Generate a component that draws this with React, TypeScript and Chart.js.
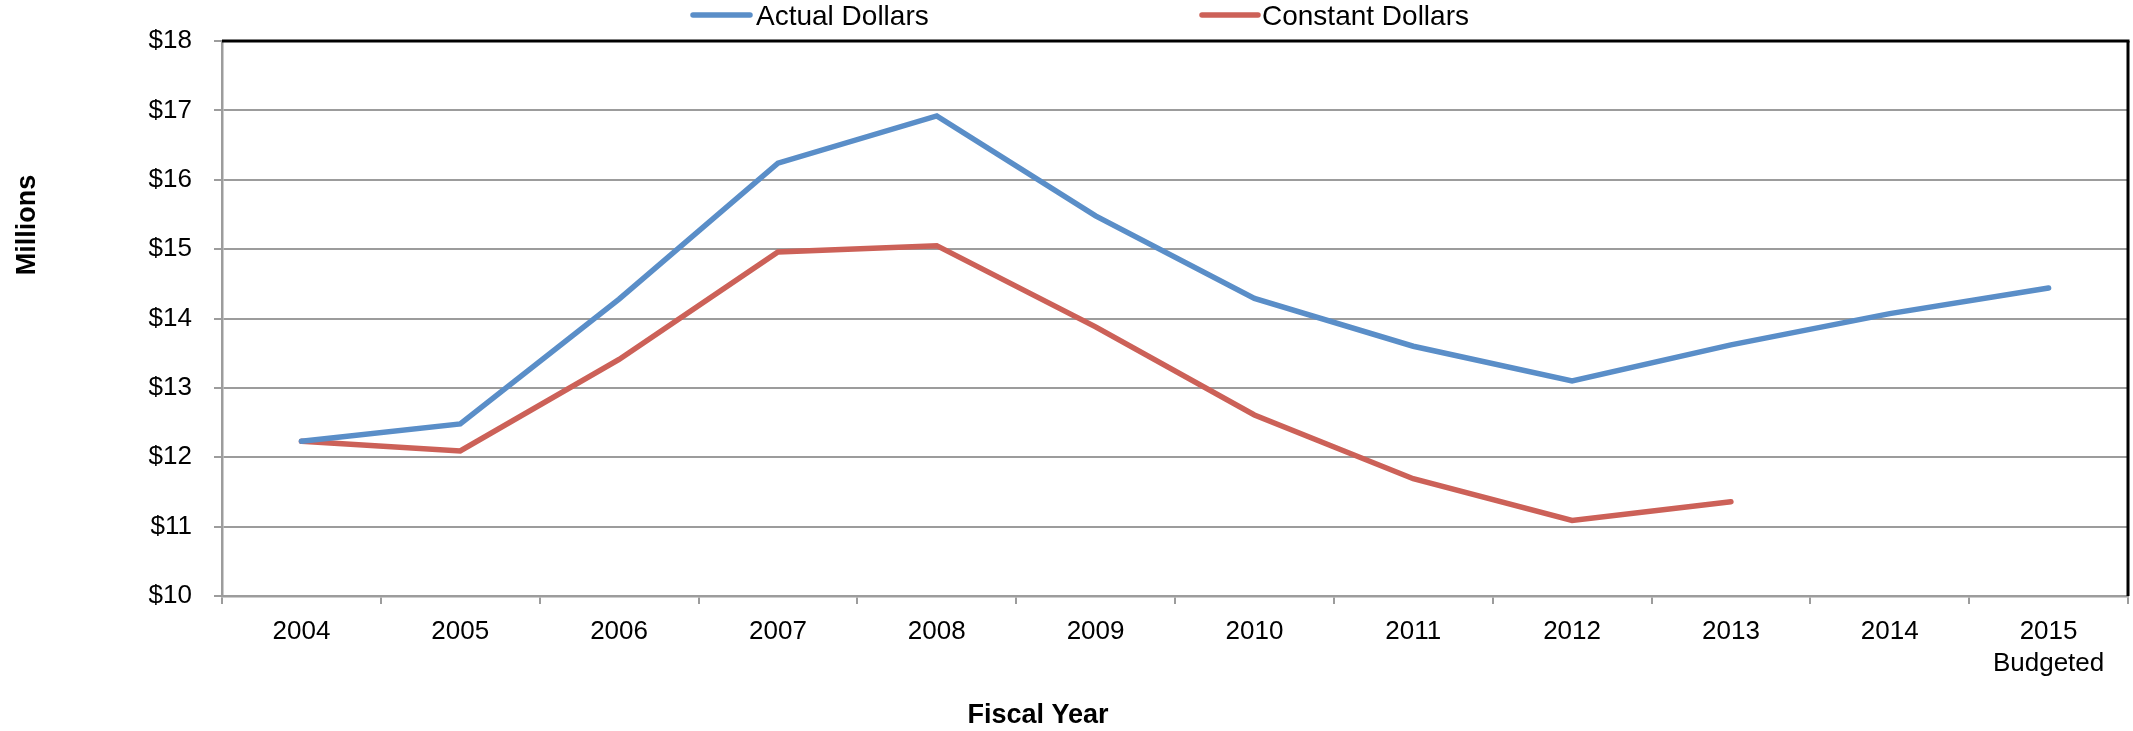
import React, { useEffect, useRef } from "react";
import { Chart, registerables } from "chart.js";

Chart.register(...registerables);

const categories: (string | string[])[] = [
  "2004", "2005", "2006", "2007", "2008", "2009",
  "2010", "2011", "2012", "2013", "2014", ["2015", "Budgeted"],
];
const actualDollars: (number | null)[] = [
  12.23, 12.48, 14.28, 16.24, 16.92, 15.48, 14.29, 13.60, 13.10, 13.62, 14.07, 14.44,
];
const constantDollars: (number | null)[] = [
  12.23, 12.09, 13.41, 14.96, 15.05, 13.88, 12.61, 11.69, 11.09, 11.36, null, null,
];
const seriesNames = ["Actual Dollars", "Constant Dollars"];
const yMin = 10;
const yMax = 18;
const yTitle = "Millions";
const xTitle = "Fiscal Year";

const BLUE = "#5A8EC8";
const RED = "#CC6158";
const GRID = "#9C9C9C";
const FONT = "'Liberation Sans', Arial, sans-serif";

const decorPlugin = {
  id: "decor",
  afterDraw(chart: any) {
    const { ctx, chartArea: a } = chart;
    ctx.save();
    // black top / right border of the plot area
    ctx.strokeStyle = "#000";
    ctx.lineCap = "butt";
    ctx.lineWidth = 3;
    ctx.beginPath();
    ctx.moveTo(a.left, a.top);
    ctx.lineTo(a.right + 1.5, a.top);
    ctx.stroke();
    ctx.lineWidth = 3;
    ctx.beginPath();
    ctx.moveTo(a.right, a.top);
    ctx.lineTo(a.right, a.bottom);
    ctx.stroke();

    // legend
    const legendItems = [
      { x0: 693, x1: 750, tx: 756 },
      { x0: 1202, x1: 1258, tx: 1262 },
    ];
    chart.data.datasets.forEach((ds: any, i: number) => {
      const it = legendItems[i];
      ctx.strokeStyle = ds.borderColor;
      ctx.lineWidth = 5.5;
      ctx.lineCap = "round";
      ctx.beginPath();
      ctx.moveTo(it.x0, 15);
      ctx.lineTo(it.x1, 15);
      ctx.stroke();
      ctx.fillStyle = "#000";
      ctx.font = `28px ${FONT}`;
      ctx.textAlign = "left";
      ctx.textBaseline = "middle";
      ctx.fillText(ds.label, it.tx, 17);
    });

    // axis titles
    ctx.fillStyle = "#000";
    ctx.font = `bold 27px ${FONT}`;
    ctx.textAlign = "center";
    ctx.textBaseline = "middle";
    ctx.fillText(xTitle, 1038, 716);
    ctx.save();
    ctx.translate(28, 225);
    ctx.rotate(-Math.PI / 2);
    ctx.fillText(yTitle, 0, 0);
    ctx.restore();
    ctx.restore();
  },
};

export default function App() {
  const canvasRef = useRef<HTMLCanvasElement | null>(null);

  useEffect(() => {
    document.body.style.margin = "0";
    document.body.style.overflow = "hidden";
    const canvas = canvasRef.current;
    if (!canvas) return;
    const chart = new Chart(canvas, {
      type: "line",
      data: {
        labels: categories,
        datasets: [
          {
            label: seriesNames[0],
            data: actualDollars,
            borderColor: BLUE,
            backgroundColor: BLUE,
            borderWidth: 5.5,
            pointRadius: 0,
            tension: 0,
            borderCapStyle: "round",
            borderJoinStyle: "miter",
          },
          {
            label: seriesNames[1],
            data: constantDollars,
            borderColor: RED,
            backgroundColor: RED,
            borderWidth: 5.5,
            pointRadius: 0,
            tension: 0,
            borderCapStyle: "round",
            borderJoinStyle: "miter",
          },
        ],
      },
      options: {
        responsive: false,
        animation: false,
        devicePixelRatio: 1,
        layout: { padding: { top: 41, right: 5, left: 0, bottom: 0 } },
        plugins: {
          legend: { display: false },
          tooltip: { enabled: false },
          title: { display: false },
        },
        scales: {
          x: {
            type: "category",
            offset: true,
            grid: {
              display: true,
              drawOnChartArea: false,
              drawTicks: true,
              tickLength: 8,
              offset: true,
              color: GRID,
              lineWidth: 2,
            },
            border: { display: true, color: GRID, width: 2.5 },
            ticks: {
              color: "#000",
              font: { family: FONT, size: 26, lineHeight: "32px" },
              padding: 12,
              maxRotation: 0,
              autoSkip: false,
            },
            afterFit: (scale: any) => {
              scale.height = 135;
            },
          },
          y: {
            min: yMin,
            max: yMax,
            grid: {
              color: GRID,
              lineWidth: 2,
              tickLength: 8,
              drawTicks: true,
            },
            border: { display: true, color: GRID, width: 2.5 },
            ticks: {
              stepSize: 1,
              color: "#000",
              font: { family: FONT, size: 26 },
              padding: 22,
              callback: (v: any) => "$" + v,
            },
            afterFit: (scale: any) => {
              scale.width = 222;
            },
          },
        },
      },
      plugins: [decorPlugin],
    } as any);
    return () => chart.destroy();
  }, []);

  return (
    <div style={{ width: 2133, height: 731 }}>
      <canvas ref={canvasRef} width={2133} height={731} style={{ display: "block" }} />
    </div>
  );
}
